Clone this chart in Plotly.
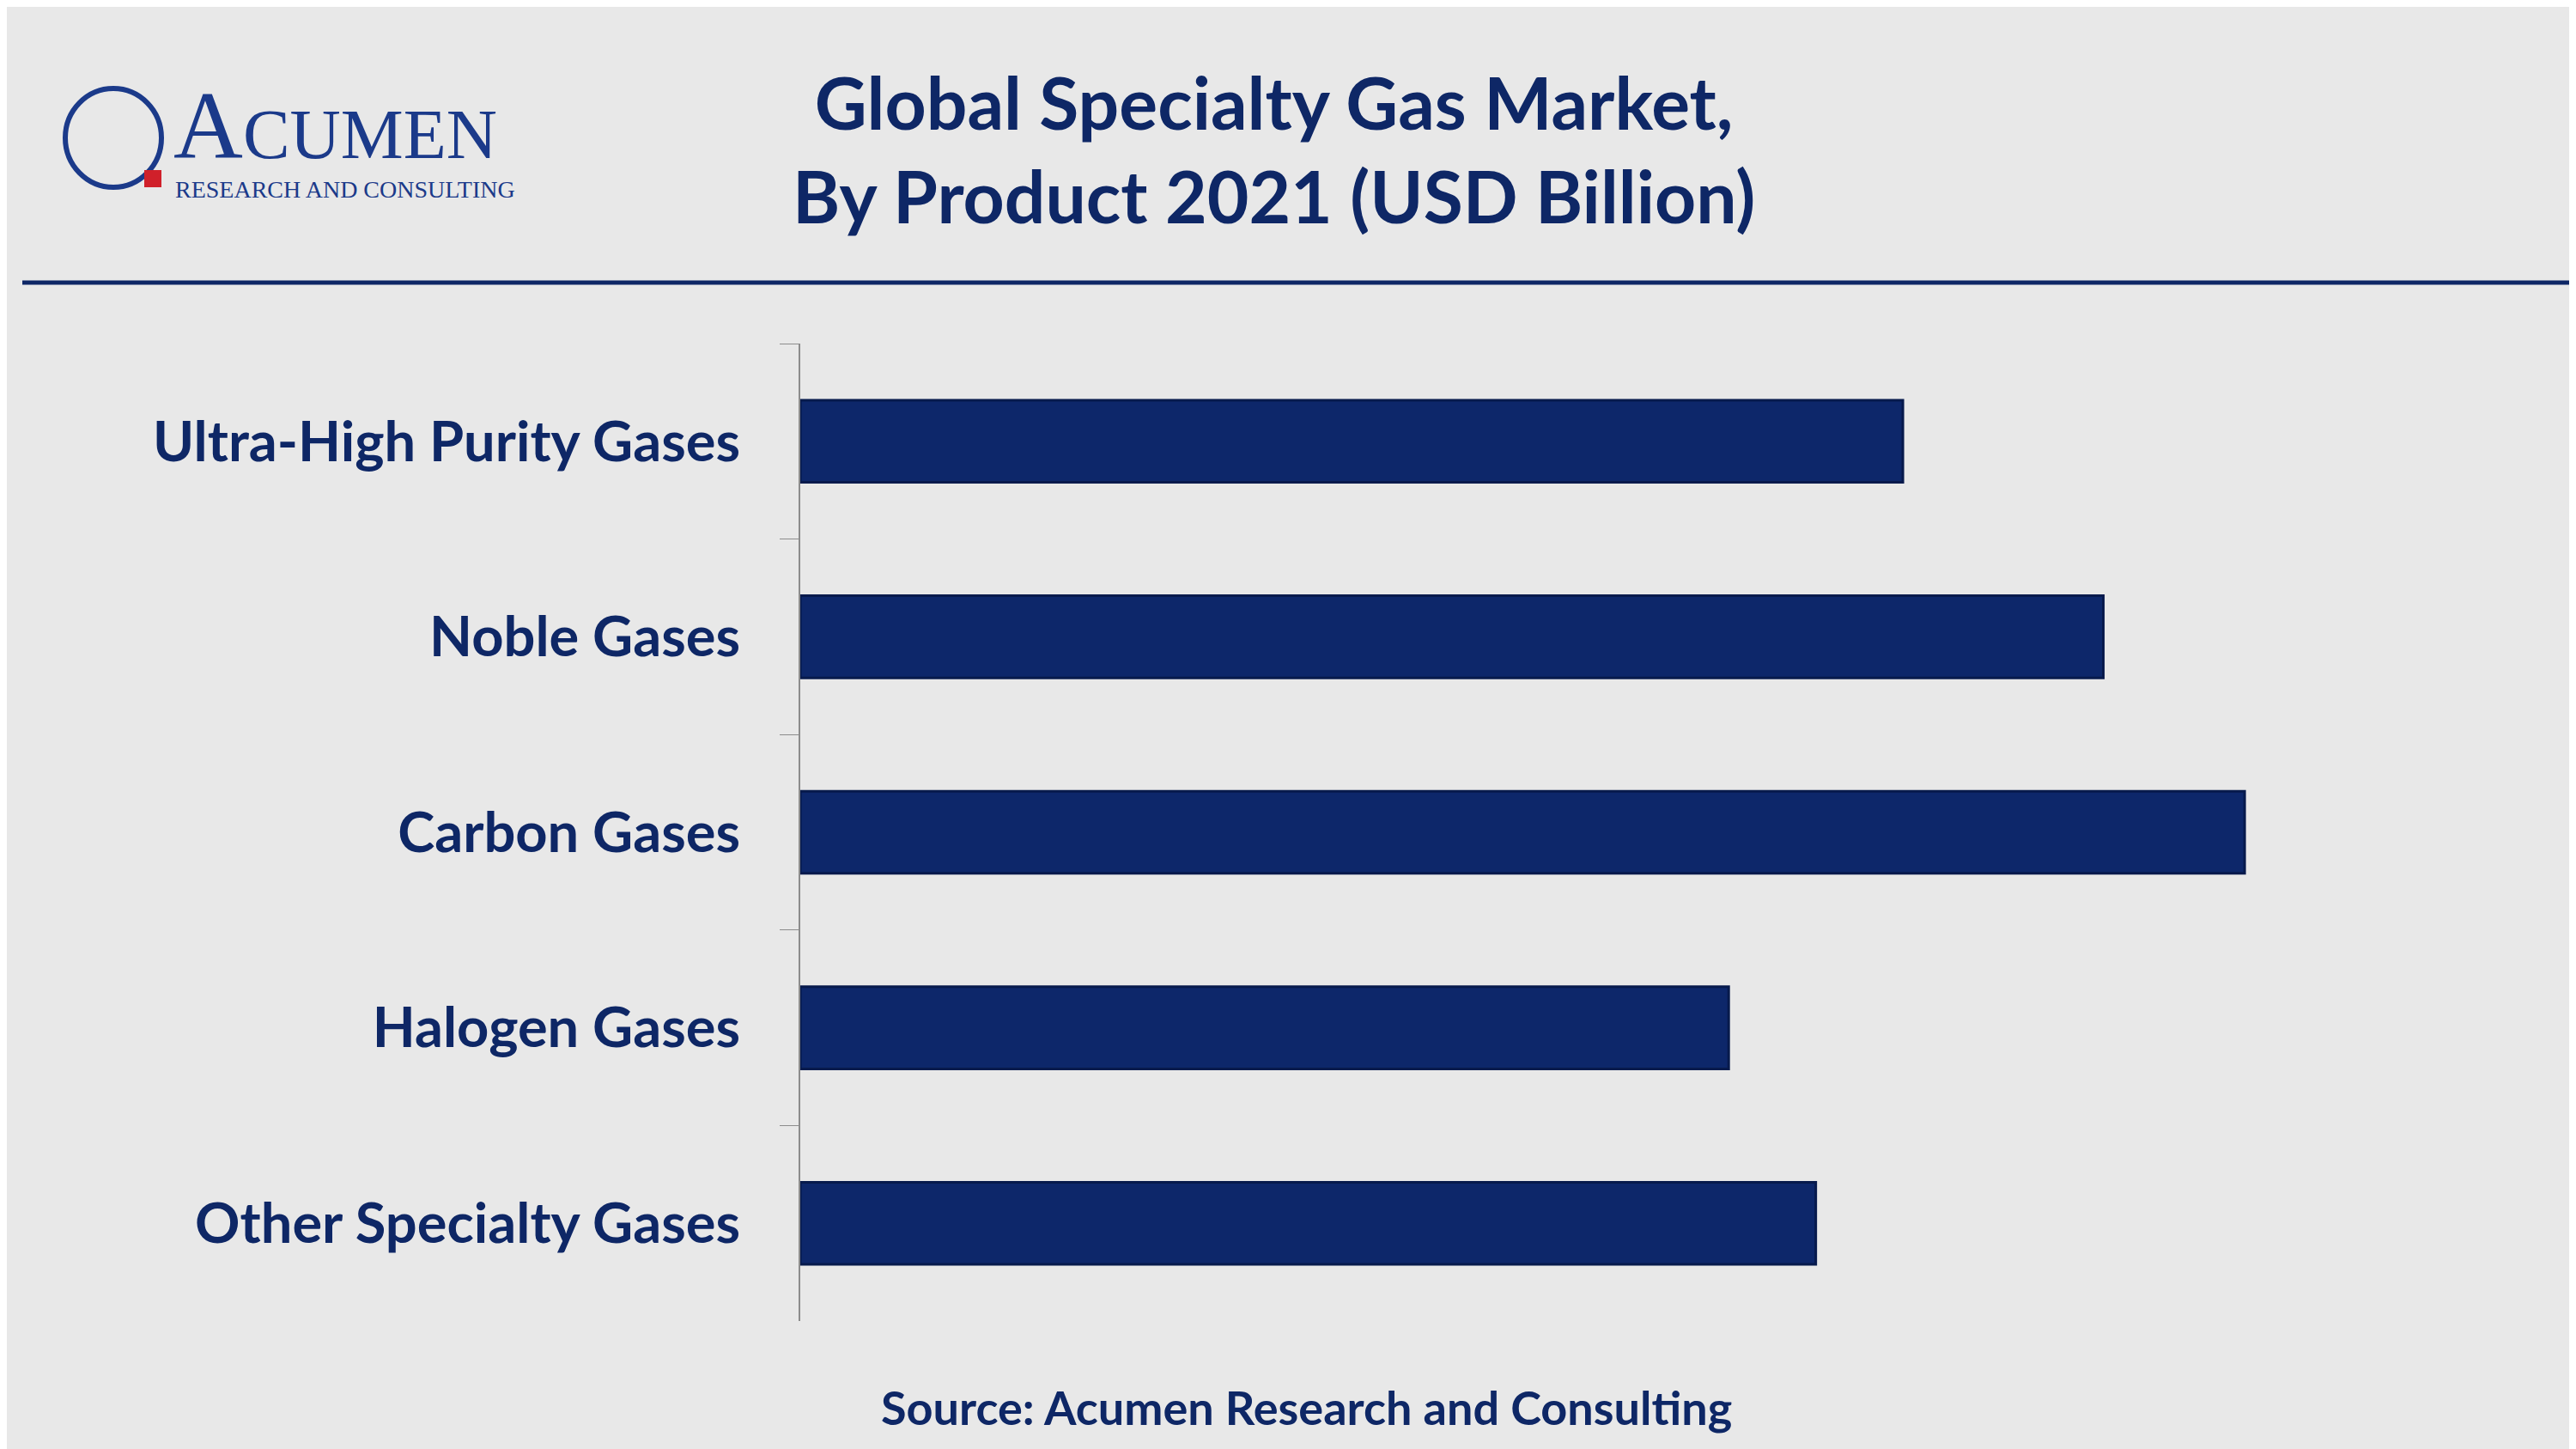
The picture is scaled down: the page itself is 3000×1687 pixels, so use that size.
import plotly.graph_objects as go

categories = ["Ultra-High Purity Gases", "Noble Gases", "Carbon Gases", "Halogen Gases", "Other Specialty Gases"]
values = [6.71, 7.93, 8.79, 5.65, 6.18]

navy = "#0E2766"
W, H, L, R, T, B = 3000, 1687, 924, 15, 392, 157
pw, ph = W - L - R, H - T - B
def px(x): return (x - L) / pw
def py(y): return (H - y - B) / ph

fig = go.Figure(go.Bar(y=categories, x=values, orientation="h", width=0.42,
                       marker=dict(color="#0D276A", line=dict(color="#071A4C", width=3))))
fig.update_layout(
    width=W, height=H, paper_bgcolor="#E8E8E8", plot_bgcolor="rgba(0,0,0,0)",
    margin=dict(l=L, r=R, t=T, b=B), showlegend=False,
    font=dict(family="Lato", color=navy),
    xaxis=dict(range=[0, 10.77], visible=False),
    yaxis=dict(autorange="reversed", showline=True, linecolor="#8C8C8C", linewidth=2,
               ticks="outside", ticklen=22, tickcolor="#8C8C8C", tickson="boundaries",
               ticklabelstandoff=55,
               tickfont=dict(size=65, family="Lato", weight="bold", color=navy)),
    shapes=[dict(type="line", xref="paper", yref="paper", x0=px(18), x1=px(3000), y0=py(321), y1=py(321),
                 line=dict(color=navy, width=5)),
            dict(type="circle", xref="paper", yref="paper", x0=px(68), x1=px(180),
                 y0=py(210), y1=py(95), line=dict(color="#1B3A8A", width=6)),
            dict(type="rect", xref="paper", yref="paper", x0=px(160), x1=px(180),
                 y0=py(210), y1=py(190), fillcolor="#D0202A", line=dict(width=0))],
    annotations=[
        dict(text="<b>Global Specialty Gas Market,<br>By Product 2021 (USD Billion)</b>", xref="paper", yref="paper",
             x=px(1475), y=py(165), xanchor="center", yanchor="middle", showarrow=False,
             font=dict(size=84, color=navy, family="Lato"), align="center"),
        dict(text="<b>Source: Acumen Research and Consulting</b>", xref="paper", yref="paper",
             x=px(1513), y=py(1630), xanchor="center", yanchor="middle", showarrow=False,
             font=dict(size=54, color=navy, family="Lato")),
        dict(text="A<span style='font-size:82px'>CUMEN</span>", xref="paper", yref="paper", x=px(192),
             y=py(138), xanchor="left", yanchor="middle", showarrow=False,
             font=dict(size=112, color="#1B3A8A", family="Liberation Serif")),
        dict(text="RESEARCH AND CONSULTING", xref="paper", yref="paper", x=px(194),
             y=py(212), xanchor="left", yanchor="middle", showarrow=False,
             font=dict(size=28, color="#1B3A8A", family="Liberation Serif")),
    ],
)
fig.write_html("out.html")
